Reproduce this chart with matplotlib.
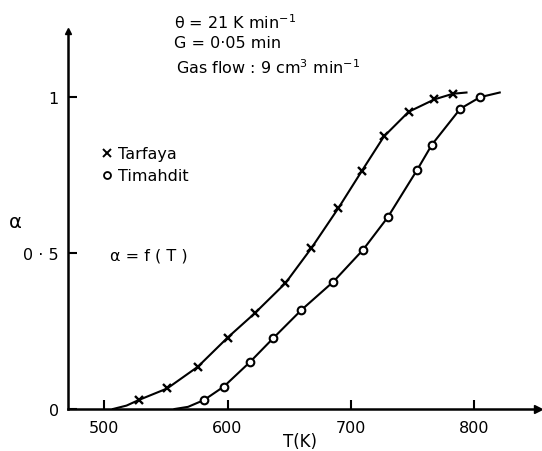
"""Conversion alpha vs temperature for two oil shales"""
import matplotlib
matplotlib.use('Agg')
import matplotlib.pyplot as plt
from matplotlib.lines import Line2D

tarfaya_T = [528, 551, 576, 600, 622, 647, 668, 690, 709, 727, 747, 768, 783]
tarfaya_a = [0.029, 0.066, 0.136, 0.229, 0.307, 0.404, 0.516, 0.645, 0.764, 0.875, 0.954, 0.994, 1.012]
timahdit_T = [581, 597, 618, 637, 660, 686, 710, 730, 754, 766, 789, 805]
timahdit_a = [0.029, 0.072, 0.150, 0.227, 0.318, 0.409, 0.511, 0.615, 0.768, 0.849, 0.964, 1.001]

# where the drawn curves start and end beyond the markers
tarfaya_head_T, tarfaya_head_a = [507, 518], [0.0, 0.011]
tarfaya_tail_T, tarfaya_tail_a = [794], [1.016]
timahdit_head_T, timahdit_head_a = [557, 568], [0.0, 0.007]
timahdit_tail_T, timahdit_tail_a = [821], [1.016]

x_ticks = [500, 600, 700, 800]
y_ticks = [0, 0.5, 1]
y_tick_labels = ['0', '0 · 5', '1']

plt.rcParams['font.family'] = ['DejaVu Sans']
fig = plt.figure(figsize=(5.42, 4.52), dpi=100)
ax = fig.add_axes([0.1255, 0.0929, 0.867, 0.836])

# curves through the points
ax.plot(tarfaya_head_T + tarfaya_T + tarfaya_tail_T,
        tarfaya_head_a + tarfaya_a + tarfaya_tail_a, color='black', lw=1.5, zorder=2)
ax.plot(timahdit_head_T + timahdit_T + timahdit_tail_T,
        timahdit_head_a + timahdit_a + timahdit_tail_a, color='black', lw=1.5, zorder=2)

# markers
ax.plot(tarfaya_T, tarfaya_a, linestyle='none', marker='x', ms=6, mew=1.7, color='black', zorder=3)
ax.plot(timahdit_T, timahdit_a, linestyle='none', marker='o', ms=5.5, mew=1.5,
        mfc='white', mec='black', zorder=3)

ax.set_xlim(470.5, 852)
ax.set_ylim(0, 1.213)

for side in ['top', 'right']:
    ax.spines[side].set_visible(False)
for side in ['left', 'bottom']:
    ax.spines[side].set_linewidth(1.8)

ax.set_xticks(x_ticks)
ax.set_yticks(y_ticks)
ax.set_yticklabels(y_tick_labels)
ax.tick_params(axis='both', direction='in', length=6.5, width=1.5, labelsize=11.5)
ax.tick_params(axis='x', pad=8)
ax.tick_params(axis='y', pad=6.5)

# arrow heads on the axes
ax.plot(1, 0, marker='>', ms=6, color='black', transform=ax.transAxes, clip_on=False)
ax.plot(0, 1, marker='^', ms=5, color='black', transform=ax.transAxes, clip_on=False)

# axis labels
ax.set_xlabel('T(K)', fontsize=12)
ax.xaxis.set_label_coords(0.494, -0.062)
ax.set_ylabel('α', fontsize=14, rotation=0, va='center', ha='center')
ax.yaxis.set_label_coords(-0.113, 0.497)

# legend with marker handles
handles = [
    Line2D([], [], linestyle='none', marker='x', ms=5.5, mew=1.4, color='black', label='Tarfaya'),
    Line2D([], [], linestyle='none', marker='o', ms=5, mew=1.3, mfc='white', mec='black', label='Timahdit'),
]
ax.legend(handles=handles, loc='center left', bbox_to_anchor=(0.188, 0.633),
          bbox_transform=fig.transFigure, frameon=False, fontsize=11.5,
          handlelength=0.7, handletextpad=0.3, borderpad=0, borderaxespad=0,
          labelspacing=0.45)

ax.text(0.089, 0.407, 'α = f ( T )', transform=ax.transAxes, fontsize=11.5, va='center')

# run conditions
fig.text(0.321, 0.949, 'θ = 21 K min$^{-1}$', fontsize=11.5, va='center')
fig.text(0.321, 0.903, 'G = 0·05 min', fontsize=11.5, va='center')
fig.text(0.324, 0.850, 'Gas flow : 9 cm$^{3}$ min$^{-1}$', fontsize=11.5, va='center')

fig.savefig('out.png', dpi=100)
